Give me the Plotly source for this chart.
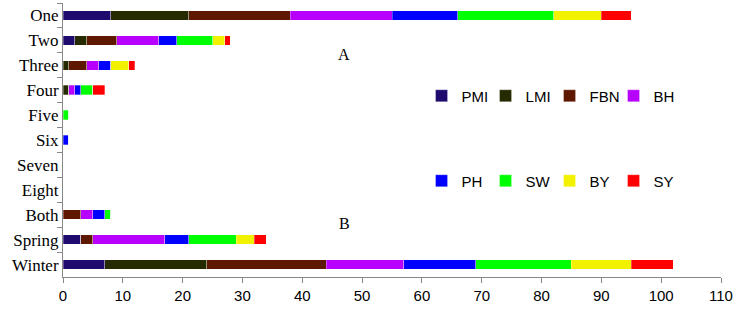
import plotly.graph_objects as go

categories = ["One", "Two", "Three", "Four", "Five", "Six", "Seven", "Eight", "Both", "Spring", "Winter"]
series_names = ["PMI", "LMI", "FBN", "BH", "PH", "SW", "BY", "SY"]
PMI = [8, 2, 0, 0, 0, 0, 0, 0, 0, 3, 7]
LMI = [13, 2, 1, 1, 0, 0, 0, 0, 0, 0, 17]
FBN = [17, 5, 3, 0, 0, 0, 0, 0, 3, 2, 20]
BH = [17, 7, 2, 1, 0, 0, 0, 0, 2, 12, 13]
PH = [11, 3, 2, 1, 0, 1, 0, 0, 2, 4, 12]
SW = [16, 6, 0, 2, 1, 0, 0, 0, 1, 8, 16]
BY = [8, 2, 3, 0, 0, 0, 0, 0, 0, 3, 10]
SY = [5, 1, 1, 2, 0, 0, 0, 0, 0, 2, 7]
x_ticks = [0, 10, 20, 30, 40, 50, 60, 70, 80, 90, 100, 110]

values = [PMI, LMI, FBN, BH, PH, SW, BY, SY]
colors = ["#1f0a6e", "#262a00", "#5e1800", "#b800ff", "#0000ff", "#00ff00", "#f2f200", "#ff0000"]

fig = go.Figure()
for i, (name, vals, col) in enumerate(zip(series_names, values, colors)):
    fig.add_trace(go.Bar(
        y=categories, x=vals, name=name, orientation="h",
        marker=dict(color=col, line=dict(color="rgba(255,255,255,0.6)", width=0.5)),
        legend="legend" if i < 4 else "legend2",
    ))

legend_common = dict(
    orientation="h", xref="paper", yref="paper", xanchor="left", yanchor="middle",
    font=dict(family="Liberation Sans, Arial", size=15, color="#000"),
    entrywidth=19, entrywidthmode="pixels", itemwidth=30,
    bgcolor="rgba(0,0,0,0)", traceorder="normal",
)
fig.update_layout(
    barmode="stack",
    bargap=0.62,
    width=737, height=312,
    margin=dict(l=63, r=16, t=3, b=35, autoexpand=False),
    plot_bgcolor="white", paper_bgcolor="white",
    legend=dict(x=(421 - 63) / 657, y=1 - (96 - 3) / 274, **legend_common),
    legend2=dict(x=(421 - 63) / 657, y=1 - (181 - 3) / 274, **legend_common),
    xaxis=dict(
        range=[0, 110], tickvals=x_ticks, showgrid=False, zeroline=False,
        showline=True, linecolor="#888", linewidth=1, automargin=False,
        ticks="outside", ticklen=5, tickcolor="#888",
        tickfont=dict(family="Liberation Sans, Arial", size=15, color="#000"),
    ),
    yaxis=dict(
        categoryorder="array", categoryarray=categories, autorange="reversed",
        showgrid=False, zeroline=False, showline=True, linecolor="#888", linewidth=1,
        ticks="outside", ticklen=5, tickcolor="#888", tickson="boundaries", automargin=False,
        tickfont=dict(family="Liberation Serif, Times New Roman", size=17, color="#000"),
    ),
    annotations=[
        dict(text="A", x=47, y=1 - (44 - 3) / 274, xref="x", yref="paper", showarrow=False,
             font=dict(family="Liberation Serif", size=16, color="#000")),
        dict(text="B", x=47, y=1 - (234 - 3) / 274, xref="x", yref="paper", showarrow=False,
             font=dict(family="Liberation Serif", size=16, color="#000")),
    ],
)

fig.write_html("out.html", config={"displayModeBar": False},
               post_script="document.body.style.margin='0';document.body.style.overflow='hidden';")
